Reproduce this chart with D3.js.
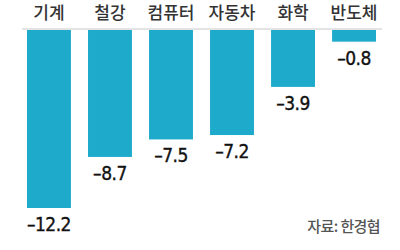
<!DOCTYPE html>
<html>
<head>
<meta charset="utf-8">
<script src="https://cdn.jsdelivr.net/npm/d3@7"></script>
<style>
  body { margin: 0; background: #fff; }
  svg { display: block; }
</style>
</head>
<body>
<svg id="chart" width="400" height="250"></svg>
<script>
const categories = ["기계", "철강", "컴퓨터", "자동차", "화학", "반도체"];
const values = [-12.2, -8.7, -7.5, -7.2, -3.9, -0.8];
const valueLabels = ["–12.2", "–8.7", "–7.5", "–7.2", "–3.9", "–0.8"];
const sourceText = "자료: 한경협";

const svg = d3.select("#chart");
const baseY = 30;

const x = d3.scaleBand()
    .domain(categories)
    .range([27, 376])
    .paddingInner(0.28)
    .paddingOuter(0);

const y = d3.scaleLinear()
    .domain([0, -12.2])
    .range([baseY, 208]);

// bars
svg.append("g")
  .selectAll("rect")
  .data(values)
  .enter()
  .append("rect")
  .attr("x", (d, i) => x(categories[i]))
  .attr("y", y(0))
  .attr("width", x.bandwidth())
  .attr("height", d => y(d) - y(0))
  .attr("fill", "#1eaacb");

// baseline
svg.append("line")
  .attr("x1", 22).attr("x2", 382)
  .attr("y1", baseY - 1).attr("y2", baseY - 1)
  .attr("stroke", "#c8c8c8")
  .attr("stroke-width", 1);

// category labels
svg.append("g")
  .selectAll("text")
  .data(categories)
  .enter()
  .append("text")
  .attr("x", d => x(d) + x.bandwidth() / 2)
  .attr("y", 19)
  .attr("text-anchor", "middle")
  .attr("font-family", "'Noto Sans CJK KR', sans-serif")
  .attr("font-size", 17)
  .attr("font-weight", 500)
  .attr("fill", "#333")
  .text(d => d);

// value labels
svg.append("g")
  .selectAll("text")
  .data(values)
  .enter()
  .append("text")
  .attr("x", (d, i) => x(categories[i]) + x.bandwidth() / 2)
  .attr("y", d => y(d) + 23)
  .attr("text-anchor", "middle")
  .attr("font-family", "'Liberation Sans Narrow', 'DejaVu Sans Condensed', sans-serif")
  .attr("font-size", 19)
  .attr("letter-spacing", -0.5)
  .attr("fill", "#111")
  .attr("stroke", "#111")
  .attr("stroke-width", 0.35)
  .text((d, i) => valueLabels[i]);

// source
svg.append("text")
  .attr("x", 380)
  .attr("y", 232)
  .attr("text-anchor", "end")
  .attr("font-family", "'Noto Sans CJK KR', sans-serif")
  .attr("font-size", 15)
  .attr("font-weight", 500)
  .attr("letter-spacing", -0.6)
  .attr("fill", "#555")
  .text(sourceText);
</script>
</body>
</html>
